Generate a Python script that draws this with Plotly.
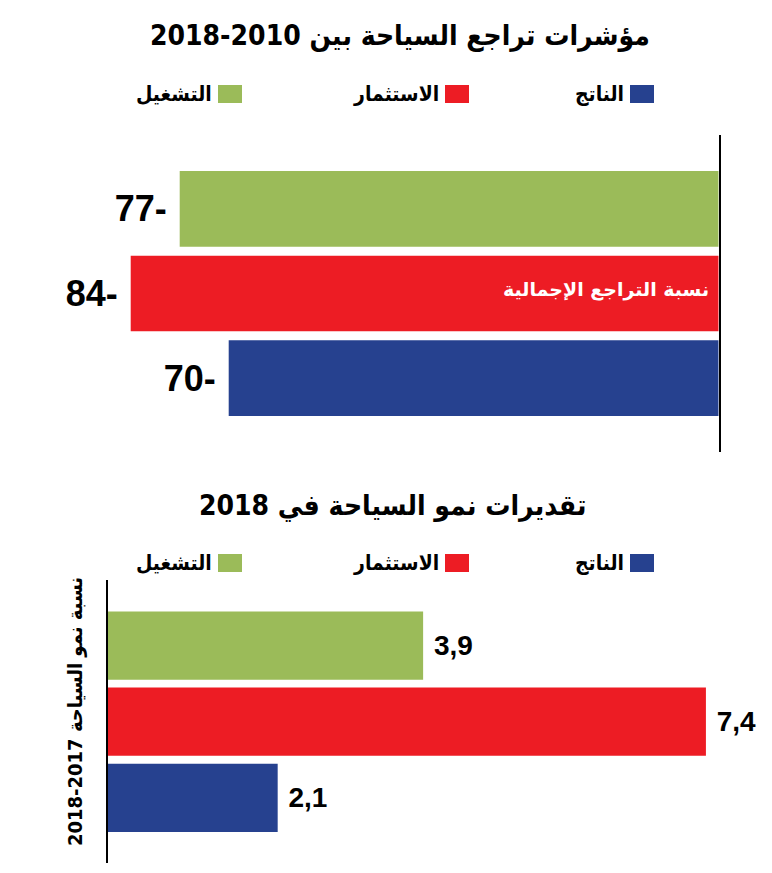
import plotly.graph_objects as go

# البيانات
fields = ["الناتج", "الاستثمار", "التشغيل"]
colors = ["#26418F", "#ED1C24", "#9BBB59"]

decline_2010_2018 = [-70, -84, -77]
growth_2018 = [2.1, 7.4, 3.9]

title_top = "مؤشرات تراجع السياحة بين 2010-2018"
title_bottom = "تقديرات نمو السياحة في 2018"
inside_label = "نسبة التراجع الإجمالية"
axis_title_bottom = "2018-2017 نسبة نمو السياحة"

ar_font = "DejaVu Sans Condensed, DejaVu Sans"
num_font = "Liberation Sans Narrow, Liberation Sans, Arial"

# the page body has an 8px margin, so the figure is 8px smaller
W, H, OFF = 764, 865, 8


def px(x):
    return (x - OFF) / W


def py(y):
    return 1 - (y - OFF) / H


fig = go.Figure()

fig.add_trace(go.Bar(
    x=decline_2010_2018, y=fields, orientation="h",
    marker=dict(color=colors, line=dict(width=0)),
    text=[f"{-v}-\u00a0" for v in decline_2010_2018],
    textposition="outside", constraintext="none", cliponaxis=False,
    textfont=dict(family=num_font, size=36, color="black", weight="bold"),
    xaxis="x", yaxis="y", showlegend=False, hoverinfo="skip",
))

fig.add_trace(go.Bar(
    x=growth_2018, y=fields, orientation="h",
    marker=dict(color=colors, line=dict(width=0)),
    text=["\u00a0" + f"{v:.1f}".replace(".", ",") for v in growth_2018],
    textposition="outside", constraintext="none", cliponaxis=False,
    textfont=dict(family=num_font, size=28, color="black", weight="bold"),
    xaxis="x2", yaxis="y2", showlegend=False, hoverinfo="skip",
))

annotations = [
    dict(text=title_top, x=px(400), y=py(36), xref="paper", yref="paper",
         xanchor="center", yanchor="middle", showarrow=False,
         font=dict(family=ar_font, size=28, color="black", weight="bold")),
    dict(text=title_bottom, x=px(392), y=py(505), xref="paper", yref="paper",
         xanchor="center", yanchor="middle", showarrow=False,
         font=dict(family=ar_font, size=28, color="black", weight="bold")),
    dict(text=inside_label, x=0, y=fields[1], xref="x", yref="y", xanchor="right",
         yanchor="middle", xshift=-8, yshift=4, showarrow=False,
         font=dict(family="DejaVu Sans", size=19, color="white", weight="bold")),
    dict(text=axis_title_bottom, x=px(75), y=py(712), xref="paper", yref="paper",
         xanchor="center", yanchor="middle", textangle=-90, showarrow=False,
         font=dict(family=ar_font, size=20, color="black", weight="bold")),
]

# وسيلة الإيضاح (المربع على يمين النص)
shapes = []
legend_sq_x = [630, 445, 218]
for legend_y in (94, 563):
    for name, col, sx in zip(fields, colors, legend_sq_x):
        shapes.append(dict(type="rect", xref="paper", yref="paper",
                           x0=px(sx), x1=px(sx + 24),
                           y0=py(legend_y + 9), y1=py(legend_y - 9),
                           fillcolor=col, line=dict(width=0)))
        annotations.append(dict(text=name, x=px(sx - 4), y=py(legend_y),
                                xref="paper", yref="paper", xanchor="right",
                                yanchor="middle", showarrow=False,
                                font=dict(family=ar_font, size=21, color="black",
                                          weight="bold")))

fig.update_layout(
    width=W, height=H,
    margin=dict(l=0, r=0, t=0, b=0),
    paper_bgcolor="white", plot_bgcolor="white",
    bargap=0.104,
    xaxis=dict(domain=[px(18.7), px(718.7)], range=[-100, 0], visible=False),
    yaxis=dict(domain=[py(452), py(135)], range=[-0.875, 2.875],
               side="right", showline=True, linecolor="black", linewidth=2,
               showticklabels=False, ticks="", showgrid=False, zeroline=False,
               anchor="x"),
    xaxis2=dict(domain=[px(108), px(754.4)], range=[0, 8], visible=False,
                anchor="y2"),
    yaxis2=dict(domain=[py(863), py(580)], range=[-0.855, 2.86],
                showline=True, linecolor="black", linewidth=2,
                showticklabels=False, ticks="", showgrid=False, zeroline=False,
                anchor="x2"),
    annotations=annotations,
    shapes=shapes,
)

fig.write_html("out.html")
